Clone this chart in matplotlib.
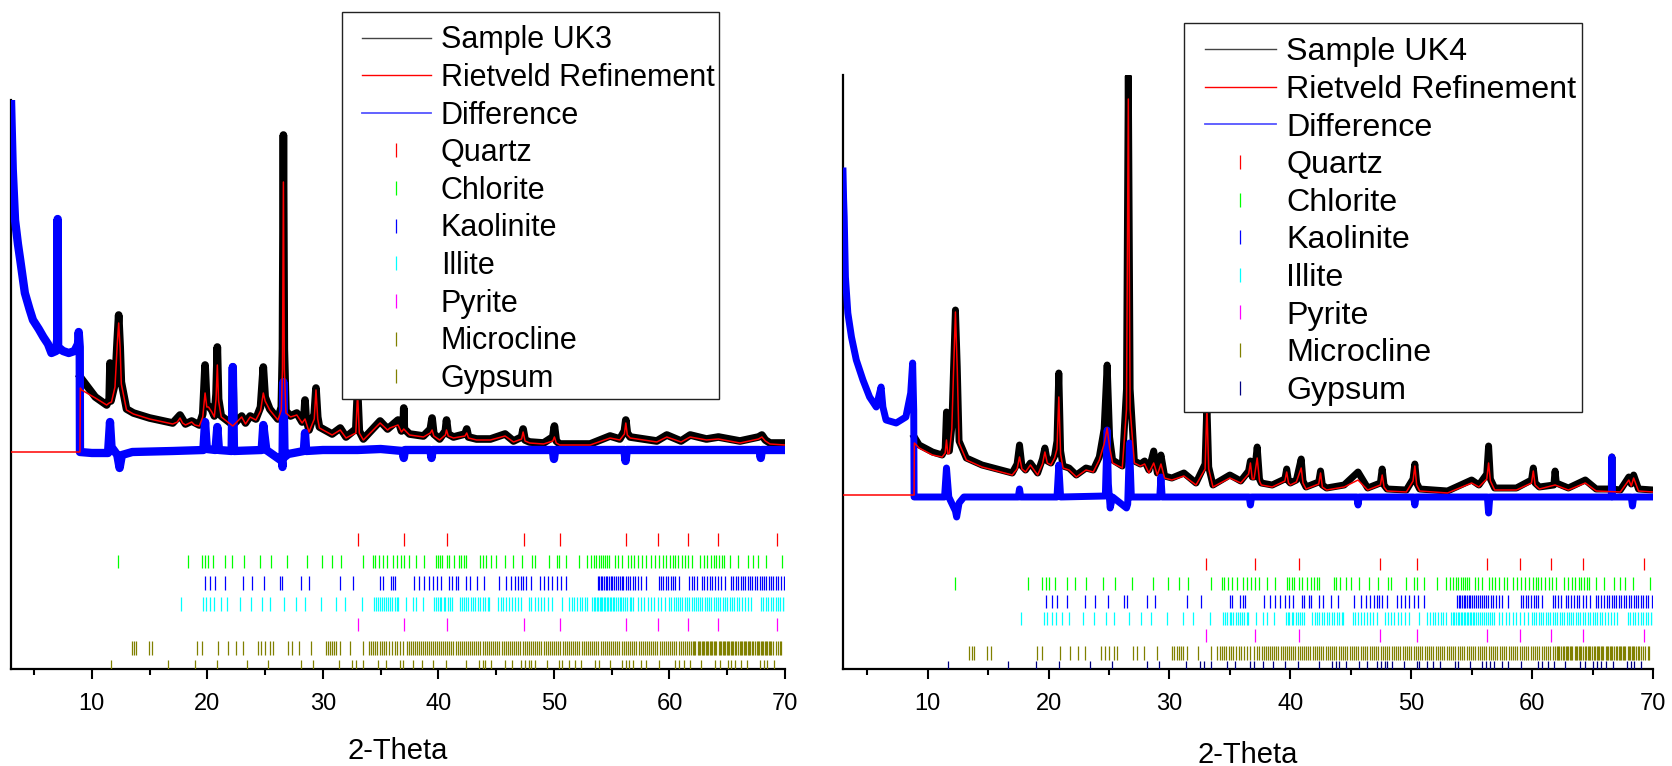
import matplotlib
matplotlib.use("Agg")
import matplotlib.pyplot as plt
from matplotlib.lines import Line2D
from matplotlib.legend_handler import HandlerLine2D
from matplotlib.ticker import MultipleLocator

plt.rcParams['font.family'] = ['Liberation Sans', 'DejaVu Sans']

# ---------------- data: sample UK3 (left) ----------------
uk3_calc_theta = [3.0, 8.97, 9.0, 9.12, 10.3, 11.28, 11.5, 11.7, 12.0, 12.2, 12.32, 12.45, 12.55, 13.0, 13.6, 15.0,
                  17.0, 17.4, 17.63, 17.85, 18.1, 18.64, 18.9, 19.3, 19.6, 19.8, 19.95, 20.1, 20.38, 20.6, 20.75,
                  20.86, 20.97, 21.2, 22.2, 22.97, 23.3, 23.7, 24.2, 24.6, 24.84, 25.0, 25.4, 26.1, 26.4, 26.5,
                  26.58, 26.66, 26.8, 27.2, 27.74, 28.2, 28.45, 28.8, 29.25, 29.4, 29.55, 29.7, 30.8, 31.5, 32.0,
                  32.85, 33.0, 33.15, 33.5, 34.95, 35.6, 35.8, 36.5, 36.8, 37.0, 37.5, 38.7, 39.3, 39.45, 39.6,
                  40.1, 40.6, 40.7, 40.85, 41.3, 42.3, 42.45, 42.6, 43.3, 44.5, 45.77, 46.5, 47.2, 47.33, 47.5,
                  47.9, 49.1, 49.9, 50.04, 50.2, 50.5, 53.13, 54.86, 55.7, 56.1, 56.22, 56.35, 56.6, 58.9, 59.77,
                  61.0, 61.79, 63.2, 64.24, 66.1, 67.7, 68.0, 68.3, 68.7, 70.0]
uk3_calc = [217, 217, 281, 279, 271, 264, 266, 267, 282, 325, 346, 320, 285, 259, 255, 250,
            245, 247, 251, 246, 244, 247, 244, 243, 252, 276, 262, 262, 257, 252, 270,
            304, 268, 252, 243, 252, 245, 252, 249, 258, 276, 268, 259, 249, 259, 300,
            487, 300, 256, 252, 254, 246, 250, 237, 250, 279, 250, 241, 234, 239, 231,
            236, 276, 236, 229, 246, 239, 241, 244, 237, 240, 234, 232, 236, 239, 233,
            229, 234, 239, 233, 231, 233, 236, 231, 229, 229, 233, 227, 230, 237, 228,
            226, 225, 228, 232, 226, 224, 224, 231, 229, 235, 246, 234, 231, 227, 232,
            227, 232, 229, 230, 226, 230, 232, 228, 225, 224]

uk3_obs_theta = [9.0, 9.12, 10.3, 11.28, 11.5, 11.57, 11.65, 12.0, 12.2, 12.32, 12.45, 12.55, 13.0, 13.6, 15.0,
                 17.0, 17.63, 18.1, 18.64, 19.3, 19.6, 19.8, 19.95, 20.38, 20.6, 20.75, 20.86, 20.97, 21.2, 22.1,
                 22.2, 22.3, 22.97, 23.3, 23.7, 24.2, 24.6, 24.84, 25.0, 25.4, 26.1, 26.4, 26.5, 26.58, 26.66,
                 26.8, 27.2, 27.74, 28.2, 28.35, 28.45, 28.55, 28.8, 29.25, 29.4, 29.55, 29.7, 30.8, 31.5, 32.0,
                 32.85, 33.0, 33.15, 33.5, 34.95, 35.6, 35.8, 36.5, 36.8, 36.95, 37.0, 37.05, 37.5, 38.7, 39.3,
                 39.45, 39.6, 40.1, 40.6, 40.7, 40.85, 41.3, 42.3, 42.45, 42.6, 43.3, 44.5, 45.77, 46.5, 47.2,
                 47.33, 47.5, 47.9, 49.1, 49.9, 50.04, 50.2, 50.5, 53.13, 54.86, 55.7, 56.1, 56.22, 56.35, 56.6,
                 58.9, 59.77, 61.0, 61.79, 63.2, 64.24, 66.1, 67.7, 68.0, 68.3, 68.7, 70.0]
uk3_obs = [292, 290, 272, 264, 270, 306, 268, 285, 330, 354, 322, 287, 260, 256, 251,
           246, 254, 245, 248, 244, 255, 304, 265, 259, 253, 275, 322, 270, 253, 245,
           302, 245, 253, 246, 253, 250, 262, 302, 272, 260, 250, 262, 320, 534, 320,
           258, 253, 256, 247, 250, 269, 250, 239, 255, 281, 252, 242, 235, 241, 232,
           240, 280, 238, 230, 248, 240, 242, 249, 238, 242, 261, 240, 235, 233, 240,
           251, 235, 230, 238, 249, 235, 232, 235, 240, 232, 230, 230, 235, 228, 232,
           240, 229, 227, 226, 232, 243, 228, 225, 225, 233, 230, 238, 249, 236, 232,
           228, 234, 228, 234, 230, 232, 228, 232, 234, 229, 226, 226]

uk3_diff_theta = [3.0, 3.05, 3.15, 3.35, 3.6, 3.8, 4.2, 4.6, 4.9, 5.4, 5.8, 6.2, 6.5, 6.9, 7.0, 7.04, 7.08, 7.5,
                  8.0, 8.5, 8.8, 8.86, 8.95, 8.97, 10.0, 11.4, 11.57, 11.7, 12.2, 12.4, 12.6, 13.5, 17.0, 19.65,
                  19.8, 19.95, 20.7, 20.86, 21.0, 22.1, 22.2, 22.3, 24.7, 24.84, 25.1, 26.45, 26.5, 26.58, 26.68,
                  27.0, 28.35, 28.45, 28.55, 30.0, 33.0, 35.0, 36.9, 37.0, 37.1, 39.3, 39.4, 39.5, 49.9, 50.0,
                  50.1, 56.1, 56.2, 56.3, 60.0, 67.8, 67.9, 68.0, 70.0]
uk3_diff = [569, 545, 500, 449, 425, 409, 376, 360, 349, 340, 332, 325, 316, 318, 330, 450, 322, 318,
            316, 318, 325, 337, 322, 217, 216, 216, 247, 222, 214, 201, 214, 217, 218, 219,
            247, 220, 219, 242, 219, 218, 302, 218, 219, 244, 219, 208, 202, 287, 212,
            215, 218, 236, 218, 219, 219, 220, 218, 211, 219, 219, 211, 219, 219, 210,
            219, 219, 208, 219, 219, 219, 211, 219, 219]

# ---------------- data: sample UK4 (right) ----------------
uk4_calc_theta = [3.0, 8.88, 8.9, 9.3, 10.4, 11.2, 11.45, 11.56, 11.67, 11.8, 12.0, 12.15, 12.3, 12.45, 12.6, 13.2,
                  14.5, 17.0, 17.4, 17.6, 17.8, 18.1, 18.5, 19.1, 19.5, 19.7, 19.9, 20.2, 20.5, 20.7, 20.85, 21.0,
                  21.2, 21.7, 22.3, 23.1, 23.7, 24.2, 24.6, 24.85, 25.05, 25.3, 26.1, 26.45, 26.6, 26.75, 27.1,
                  27.6, 27.95, 28.3, 28.7, 29.0, 29.3, 29.6, 30.2, 31.2, 32.2, 32.95, 33.1, 33.25, 33.6, 35.0,
                  35.9, 36.55, 36.7, 36.85, 37.0, 37.26, 37.45, 37.6, 38.5, 39.55, 39.7, 39.85, 40.0, 40.5, 40.9,
                  41.05, 41.3, 42.35, 42.5, 42.65, 43.0, 44.45, 45.6, 46.4, 47.45, 47.6, 47.75, 48.0, 49.6, 50.15,
                  50.3, 50.45, 50.7, 53.0, 55.0, 55.6, 56.25, 56.4, 56.55, 56.9, 58.7, 59.95, 60.1, 60.25, 60.6,
                  61.9, 63.0, 64.4, 65.3, 67.3, 68.0, 68.2, 68.4, 68.8, 70.0]
uk4_calc = [174, 174, 226, 221, 214, 212, 216, 229, 215, 216, 240, 300, 357, 300, 226, 209,
            202, 194, 200, 212, 200, 197, 204, 194, 205, 217, 206, 204, 211, 220, 272, 215,
            201, 199, 192, 199, 197, 209, 225, 241, 222, 206, 201, 260, 570, 260, 206,
            203, 205, 196, 206, 194, 205, 191, 189, 193, 184, 200, 262, 200, 182, 191,
            186, 195, 206, 190, 190, 211, 188, 184, 182, 188, 197, 186, 184, 187, 201,
            186, 180, 185, 196, 182, 179, 182, 189, 179, 184, 194, 182, 178, 177, 188,
            203, 184, 178, 176, 186, 182, 190, 206, 188, 179, 179, 186, 198, 184, 180,
            184, 179, 186, 178, 177, 189, 183, 191, 178, 177]

uk4_obs_theta = [8.9, 9.3, 10.4, 11.2, 11.45, 11.56, 11.67, 11.8, 12.0, 12.15, 12.3, 12.45, 12.6, 13.2, 14.5, 17.0,
                 17.4, 17.6, 17.8, 18.1, 18.5, 19.1, 19.5, 19.7, 19.9, 20.2, 20.5, 20.7, 20.85, 21.0, 21.2, 21.7,
                 22.3, 23.1, 23.7, 24.2, 24.6, 24.85, 25.05, 25.3, 26.1, 26.45, 26.6, 26.75, 27.1, 27.6, 27.95,
                 28.3, 28.7, 29.0, 29.3, 29.6, 30.2, 31.2, 32.2, 32.95, 33.1, 33.25, 33.6, 35.0, 35.9, 36.55,
                 36.7, 36.85, 37.0, 37.26, 37.45, 37.6, 38.5, 39.55, 39.7, 39.85, 40.0, 40.5, 40.9, 41.05, 41.3,
                 42.35, 42.5, 42.65, 43.0, 44.45, 45.6, 46.4, 47.45, 47.6, 47.75, 48.0, 49.6, 50.15, 50.3, 50.45,
                 50.7, 53.0, 55.0, 55.6, 56.25, 56.4, 56.55, 56.9, 58.7, 59.95, 60.1, 60.25, 60.6, 61.8, 61.9,
                 62.0, 63.0, 64.4, 65.3, 66.55, 66.6, 66.65, 67.3, 68.0, 68.2, 68.4, 68.8, 70.0]
uk4_obs = [232, 224, 217, 214, 220, 257, 218, 218, 242, 302, 359, 302, 228, 211, 204, 196,
           205, 224, 203, 199, 206, 196, 210, 221, 208, 206, 213, 228, 296, 218, 203, 201,
           194, 201, 199, 212, 240, 304, 232, 209, 203, 280, 593, 280, 208, 205, 208,
           199, 218, 196, 214, 193, 191, 196, 186, 205, 265, 202, 184, 194, 188, 198,
           208, 192, 192, 222, 190, 186, 184, 190, 200, 188, 186, 189, 210, 188, 182,
           187, 198, 184, 181, 184, 197, 181, 186, 200, 184, 180, 179, 190, 205, 186,
           180, 178, 189, 184, 195, 223, 190, 181, 181, 189, 201, 186, 182, 184, 198,
           186, 181, 189, 180, 180, 212, 180, 179, 192, 185, 194, 180, 179]

uk4_diff_theta = [3.0, 3.05, 3.1, 3.2, 3.4, 3.7, 4.1, 4.65, 5.2, 5.75, 6.15, 6.3, 6.56, 7.4, 8.2, 8.6, 8.76, 8.85,
                  8.88, 11.4, 11.56, 11.75, 12.3, 12.4, 12.6, 13.0, 17.5, 17.6, 17.7, 20.7, 20.85, 21.0, 24.7,
                  24.85, 24.95, 25.1, 25.3, 26.45, 26.55, 26.7, 26.85, 29.2, 29.3, 29.4, 36.6, 36.7, 36.8, 45.5,
                  45.6, 45.7, 50.2, 50.3, 50.4, 56.3, 56.4, 56.5, 66.55, 66.6, 66.65, 68.2, 68.3, 68.4, 70.0]
uk4_diff = [498, 470, 452, 392, 356, 332, 309, 289, 272, 262, 282, 262, 249, 246, 252, 276, 306, 259,
            172, 172, 201, 172, 158, 152, 166, 172, 172, 180, 172, 172, 204, 172, 173,
            239, 185, 161, 172, 161, 165, 226, 172, 172, 192, 172, 172, 164, 172, 172,
            164, 172, 172, 164, 172, 172, 156, 172, 172, 212, 172, 172, 163, 172, 172]

# ---------------- reflection positions (2-theta) ----------------
quartz = [33.03, 37.06, 40.72, 47.40, 50.50, 56.24, 59.00, 61.60, 64.24, 69.28]
pyrite = [33.03, 37.06, 40.72, 47.40, 50.50, 56.24, 59.00, 61.60, 64.24, 69.28]
chlorite = [12.25, 18.31, 19.50, 19.77, 20.08, 20.52, 21.49, 22.16, 23.13, 24.54, 25.52, 26.93, 28.66, 29.89,
            30.78, 31.53, 33.47, 34.31, 34.54, 34.85, 35.20, 35.55, 36.08, 36.44, 36.75, 37.06, 37.41, 38.07,
            38.74, 39.75, 39.93, 40.15, 40.33, 40.72, 40.95, 41.39, 41.74, 41.96, 42.18, 42.41, 43.60, 43.82,
            44.13, 44.57, 45.01, 45.72, 46.47, 47.22, 48.11, 48.33, 49.57, 50.23, 50.45, 51.03, 52.13, 52.88,
            53.24, 53.46, 53.68, 53.86, 54.08, 54.25, 54.43, 54.61, 54.78, 55.31, 55.53, 55.89, 56.42, 56.68,
            56.95, 57.30, 57.65, 57.96, 58.40, 58.76, 59.07, 59.42, 59.73, 60.04, 60.31, 60.49, 60.75, 61.06,
            61.37, 61.64, 61.95, 62.61, 62.96, 63.27, 63.58, 63.85, 64.07, 64.29, 64.51, 64.73, 65.26, 65.92,
            66.81, 67.25, 67.69, 68.35, 69.77]
kaolinite = [19.81, 20.26, 20.70, 21.54, 23.04, 23.84, 24.94, 26.27, 26.49, 28.13, 28.79, 31.44, 32.63, 34.98,
             35.16, 35.86, 36.08, 36.26, 37.85, 38.29, 38.74, 39.18, 39.53, 39.89, 40.19, 40.95, 41.17, 41.52,
             41.70, 42.36, 42.71, 43.38, 43.95, 45.28, 45.81, 46.25, 46.60, 46.91, 47.13, 47.36, 47.58, 48.02,
             48.81, 49.12, 49.48, 49.79, 50.23, 50.58, 51.03, 53.77, 53.92, 54.05, 54.18, 54.33, 54.47, 54.60,
             54.76, 54.90, 55.05, 55.22, 55.38, 55.55, 55.71, 55.86, 56.02, 56.20, 56.37, 56.58, 56.80, 57.02,
             57.30, 57.55, 57.97, 59.07, 59.25, 59.46, 59.68, 59.90, 60.12, 60.30, 60.52, 60.84, 61.70, 61.93,
             62.12, 62.40, 62.82, 63.01, 63.24, 63.50, 63.70, 63.92, 64.18, 64.47, 64.80, 65.30, 65.48, 65.74,
             65.95, 66.16, 66.38, 66.57, 66.80, 66.97, 67.18, 67.37, 67.58, 67.80, 67.98, 68.17, 68.39, 68.58,
             68.80, 68.99, 69.18, 69.40, 69.62, 69.88]
illite = [17.74, 19.64, 19.90, 20.26, 20.61, 21.14, 21.72, 22.82, 23.79, 24.77, 25.38, 26.67, 27.68, 28.48,
          29.81, 31.13, 31.93, 33.39, 34.45, 34.62, 34.80, 34.98, 35.12, 35.30, 35.47, 35.66, 35.85, 36.02,
          36.20, 36.38, 36.53, 37.19, 37.76, 38.07, 38.65, 39.62, 39.78, 39.93, 40.10, 40.26, 40.44, 40.61,
          40.80, 40.98, 41.17, 41.83, 42.02, 42.20, 42.41, 42.60, 42.78, 43.00, 43.20, 43.42, 43.63, 43.85,
          44.06, 44.25, 44.39, 45.15, 45.38, 45.60, 45.85, 46.10, 46.35, 46.60, 46.85, 47.13, 47.80, 48.05,
          48.32, 48.60, 48.88, 49.15, 49.45, 49.79, 50.67, 51.33, 51.55, 51.77, 52.00, 52.22, 52.45, 52.66,
          52.88, 53.32, 53.45, 53.58, 53.70, 53.83, 53.95, 54.08, 54.20, 54.33, 54.45, 54.58, 54.70, 54.83,
          54.95, 55.08, 55.22, 55.37, 55.52, 55.68, 55.84, 56.00, 56.18, 56.36, 56.55, 56.70, 56.86, 57.30,
          57.55, 57.82, 58.10, 58.40, 58.70, 59.00, 59.30, 59.62, 59.96, 60.15, 60.35, 60.55, 60.74, 60.92,
          61.12, 61.33, 61.52, 61.72, 61.92, 62.10, 62.30, 62.48, 62.66, 62.85, 63.04, 63.22, 63.42, 63.62,
          63.82, 64.00, 64.20, 64.40, 64.60, 64.80, 65.00, 65.20, 65.40, 65.60, 65.82, 66.05, 66.26, 66.50,
          66.78, 67.03, 67.91, 68.12, 68.34, 68.55, 68.76, 68.98, 69.20, 69.40, 69.60, 69.80, 69.99]
microcline = [13.45, 13.63, 13.80, 14.95, 15.22, 19.06, 19.50, 20.96, 21.76, 22.47, 23.04, 24.37, 24.68, 25.03,
              25.38, 25.69, 27.02, 27.33, 27.90, 29.01, 30.25, 30.42, 30.60, 30.78, 30.96, 31.14, 31.44, 32.33,
              33.43, 33.96, 34.15, 34.32, 34.50, 34.70, 34.90, 35.10, 35.30, 35.50, 35.72, 35.95, 36.20, 36.45,
              36.70, 36.97, 37.28, 37.45, 37.62, 37.80, 37.98, 38.14, 38.32, 38.50, 38.66, 38.84, 39.02, 39.20,
              39.36, 39.55, 39.72, 39.90, 40.08, 40.25, 40.42, 40.60, 40.78, 40.95, 41.12, 41.30, 41.48, 41.66,
              41.84, 42.02, 42.20, 42.38, 42.56, 42.74, 42.92, 43.10, 43.28, 43.46, 43.64, 43.82, 44.00, 44.18,
              44.36, 44.55, 44.73, 44.91, 45.09, 45.27, 45.46, 45.64, 45.82, 46.00, 46.18, 46.37, 46.55, 46.73,
              46.91, 47.10, 47.28, 47.46, 47.64, 47.82, 48.01, 48.19, 48.37, 48.55, 48.74, 48.92, 49.10, 49.28,
              49.47, 49.65, 49.83, 50.01, 50.20, 50.38, 50.56, 50.74, 50.93, 51.11, 51.29, 51.47, 51.66, 51.84,
              52.02, 52.20, 52.39, 52.57, 52.75, 52.93, 53.12, 53.30, 53.48, 53.66, 53.85, 54.03, 54.21, 54.40,
              54.58, 54.76, 54.94, 55.13, 55.31, 55.49, 55.67, 55.86, 56.04, 56.22, 56.40, 56.59, 56.77, 56.95,
              57.13, 57.32, 57.50, 57.68, 57.86, 58.05, 58.23, 58.41, 58.60, 58.78, 58.96, 59.14, 59.33, 59.51,
              59.69, 59.87, 60.06, 60.24, 60.42, 60.60, 60.79, 60.97, 61.15, 61.33, 61.52, 61.70, 61.88, 62.06,
              62.15, 62.25, 62.43, 62.52, 62.61, 62.79, 62.88, 62.98, 63.16, 63.25, 63.34, 63.52, 63.61, 63.71,
              63.89, 63.98, 64.07, 64.25, 64.34, 64.44, 64.62, 64.71, 64.80, 64.98, 65.08, 65.17, 65.35, 65.44,
              65.53, 65.71, 65.80, 65.90, 66.08, 66.17, 66.26, 66.44, 66.53, 66.63, 66.81, 66.90, 66.99, 67.17,
              67.27, 67.36, 67.54, 67.63, 67.72, 67.90, 68.00, 68.09, 68.27, 68.36, 68.45, 68.63, 68.73, 68.82,
              69.00, 69.18, 69.36, 69.55, 69.68]
gypsum = [11.68, 16.63, 18.97, 20.83, 23.44, 25.25, 28.13, 29.14, 31.35, 32.55, 32.86, 33.43, 34.76, 35.42,
          36.66, 36.97, 37.76, 38.60, 39.53, 40.64, 42.36, 43.47, 43.82, 44.04, 44.57, 45.72, 46.38, 47.13,
          47.49, 47.80, 48.02, 48.37, 49.43, 50.45, 50.67, 51.33, 51.78, 52.35, 53.59, 53.86, 54.87, 55.89,
          56.20, 56.51, 56.86, 57.52, 57.97, 59.07, 60.49, 60.84, 61.28, 61.81, 62.70, 63.94, 64.38, 65.04,
          65.35, 65.70, 66.15, 66.68, 67.82, 68.14, 68.44, 69.02]

phase_names = ["Quartz", "Chlorite", "Kaolinite", "Illite", "Pyrite", "Microcline", "Gypsum"]
phase_positions = [quartz, chlorite, kaolinite, illite, pyrite, microcline, gypsum]

# ---------------- figure ----------------
W, H = 1672, 766
fig = plt.figure(figsize=(W / 100, H / 100), dpi=100)


def px_axes(x0, y0, x1, y1):
    return fig.add_axes([x0 / W, 1 - y1 / H, (x1 - x0) / W, (y1 - y0) / H])


panels = [
    dict(rect=(11, 100, 785, 669), ymax=569, name="Sample UK3",
         calc=(uk3_calc_theta, uk3_calc), obs=(uk3_obs_theta, uk3_obs), diff=(uk3_diff_theta, uk3_diff),
         lw_obs=5.5, lw_diff=6.0,
         rows=[(123, 136), (101, 114), (79, 93), (58, 72), (38, 51), (14, 28), (-4, 9)],
         colors=['#ff0000', '#00ff00', '#0000ff', '#00ffff', '#ff00ff', '#808000', '#808000'],
         legend_anchor=(342, 12), legend_fs=22.0, label_pad=15.5, borderpad=0.15,
         handlelength=2.75, xpad=0.51, labelspacing=0.25, handletextpad=0.33),
    dict(rect=(843, 75, 1653, 669), ymax=594, name="Sample UK4",
         calc=(uk4_calc_theta, uk4_calc), obs=(uk4_obs_theta, uk4_obs), diff=(uk4_diff_theta, uk4_diff),
         lw_obs=5.0, lw_diff=5.0,
         rows=[(99, 111), (79, 92), (61, 74), (44, 57), (27, 40), (9, 23), (-4, 8)],
         colors=['#ff0000', '#00ff00', '#0000ff', '#00ffff', '#ff00ff', '#808000', '#000080'],
         legend_anchor=(1184, 23), legend_fs=23.2, label_pad=18.5, borderpad=0.18,
         handlelength=2.66, xpad=0.48, labelspacing=0.236, handletextpad=0.34),
]

for p in panels:
    ax = px_axes(*p['rect'])
    ax.set_xlim(3, 70)
    ax.set_ylim(0, p['ymax'])
    ax.plot(*p['obs'], color='black', lw=p['lw_obs'], solid_joinstyle='round', zorder=2)
    ax.plot(*p['diff'], color='#0000ff', lw=p['lw_diff'], solid_joinstyle='round', zorder=3)
    ax.plot(*p['calc'], color='#ff0000', lw=1.1, zorder=4)
    for pos, (lo, hi), col in zip(phase_positions, p['rows'], p['colors']):
        ax.vlines(pos, lo, hi, colors=col, lw=0.9, zorder=5)

    for s in ('top', 'right'):
        ax.spines[s].set_visible(False)
    for s in ('left', 'bottom'):
        ax.spines[s].set_linewidth(1.6)
    ax.set_yticks([])
    ax.xaxis.set_minor_locator(MultipleLocator(5))
    ax.set_xticks([10, 20, 30, 40, 50, 60, 70])
    ax.tick_params(axis='x', which='major', direction='out', length=7.5, width=1.5, pad=10, labelsize=17)
    ax.tick_params(axis='x', which='minor', direction='out', length=4, width=1.5)
    ax.set_xlabel("2-Theta", fontsize=21, labelpad=p['label_pad'])

    legend_line_handles = [
        Line2D([], [], color='#444444', lw=1.0),
        Line2D([], [], color='#ff0000', lw=1.0),
        Line2D([], [], color='#5555ff', lw=1.3),
    ]
    legend_tick_handles = [Line2D([], [], color=c, marker='|', ls='none', markersize=9.5, markeredgewidth=0.9)
                           for c in p['colors']]
    handles = legend_line_handles + legend_tick_handles
    hmap = {h: HandlerLine2D(xpad=p['xpad']) for h in handles}
    leg = ax.legend(handles,
                    [p['name'], "Rietveld Refinement", "Difference"] + phase_names,
                    handler_map=hmap,
                    loc='upper left',
                    bbox_to_anchor=(p['legend_anchor'][0] / W, 1 - p['legend_anchor'][1] / H),
                    bbox_transform=fig.transFigure, borderaxespad=0,
                    fontsize=p['legend_fs'], title=" ", title_fontsize=1,
                    frameon=True, fancybox=False, framealpha=1,
                    edgecolor='#222222', borderpad=p['borderpad'], labelspacing=p['labelspacing'],
                    handlelength=p['handlelength'], handletextpad=p['handletextpad'])
    leg.get_frame().set_linewidth(1.0)
    leg.set_zorder(10)

fig.savefig("out.png", dpi=100)
